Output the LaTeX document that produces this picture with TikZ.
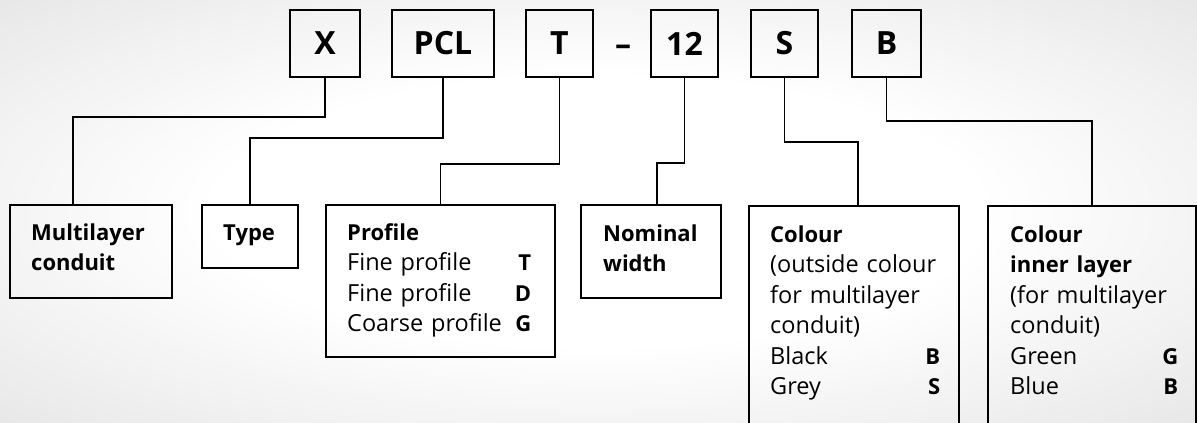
\documentclass[tikz,border=0pt]{standalone}
\usepackage{fontspec}
\setmainfont{Open Sans}
\pgfdeclareradialshading{vignette}{\pgfpoint{0bp}{0bp}}{color(0bp)=(white); color(16bp)=(white); color(35bp)=(black!9); color(50bp)=(black!9)}
\newcommand\hd[1]{{\fontsize{22}{30.5}\selectfont\bfseries #1}}
\tikzset{
  codebox/.style={draw, line width=1.5pt, outer sep=0pt, minimum width=67, minimum height=67,
    font=\fontsize{32}{38}\selectfont\bfseries},
  infobox/.style={draw, line width=1.5pt, outer sep=0pt, anchor=north west},
  infotext/.style={anchor=base west, inner sep=0pt, align=left,
    font=\fontsize{23.5}{30.5}\selectfont},
  link/.style={line width=1.5pt}
}
\begin{document}
\begin{tikzpicture}[x=1pt,y=-1pt]
\shade[shading=vignette] (0,0) rectangle (1197,423);
\useasboundingbox (0,0) rectangle (1197,423);

% code
\node[codebox, minimum width=70] (cX) at (325,43.5) {X};
\node[codebox, minimum width=102] (cPCL) at (443,43.5) {PCL};
\node[codebox] (cT) at (559.5,43.5) {T};
\node[anchor=base, font=\fontsize{32}{38}\selectfont\bfseries] (dash) at (623,55) {\textendash};
\node[codebox] (c12) at (684.5,43.5) {12};
\node[codebox] (cS) at (784.5,43.5) {S};
\node[codebox, minimum width=69] (cB) at (886.5,43.5) {B};

% boxes
\node[infobox, minimum width=162, minimum height=93] (mult) at (10,205) {};
\node[infobox, minimum width=96, minimum height=63] (type) at (202,205) {};
\node[infobox, minimum width=229, minimum height=152] (prof) at (326,205) {};
\node[infobox, minimum width=140, minimum height=93] (nom) at (581,205) {};
\node[infobox, minimum width=210, minimum height=260] (col) at (749,206) {};
\node[infobox, minimum width=208, minimum height=260] (inner) at (988,206) {};

\node[infotext, text width=125] (multtxt) at (31,240) {\hd{Multilayer}\\\hd{conduit}};
\node[infotext] (typetxt) at (223,240) {\hd{Type}};
\node[infotext, text width=184] (proftxt) at (347,240)
  {\hd{Profile}\\Fine profile\hfill\hd{T}\\Fine profile\hfill\hd{D}\\Coarse profile\hfill\hd{G}};
\node[infotext, text width=110] (nomtxt) at (603,241) {\hd{Nominal}\\\hd{width}};
\node[infotext, text width=170] (coltxt) at (770,242)
  {\hd{Colour}\\(outside colour\\for multilayer\\conduit)\\Black\hfill\hd{B}\\Grey\hfill\hd{S}};
\node[infotext, text width=168] (innertxt) at (1010,242)
  {\hd{Colour}\\\hd{inner layer}\\(for multilayer\\conduit)\\Green\hfill\hd{G}\\Blue\hfill\hd{B}};

% links
\draw[link] (cX.south) -- ++(0,40) -| ([xshift=-18]mult.north);
\draw[link] (cPCL.south) -- ++(0,61) -| (type.north);
\draw[link] (cT.south) -- ++(0,87) -| (prof.north);
\draw[link] (c12.south) -- ++(0,86) -| ([xshift=6]nom.north);
\draw[link] (cS.south) -- ++(0,65) -| ([xshift=4]col.north);
\draw[link] (cB.south) -- ++(0,44) -| (inner.north);
\end{tikzpicture}
\end{document}
